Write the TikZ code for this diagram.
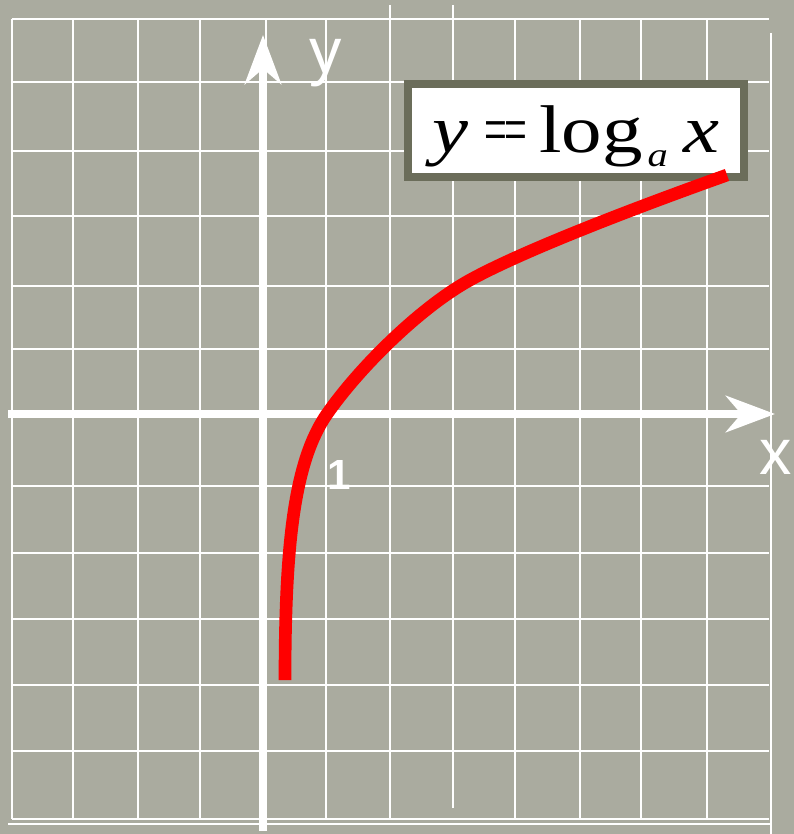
\documentclass[tikz,border=0pt]{standalone}
\usepackage{fontspec}
\setmainfont{Liberation Serif}
\setsansfont{Liberation Sans}
\usepackage{graphicx}
\usetikzlibrary{arrows.meta}

\definecolor{bgpaper}{RGB}{170,171,159}
\definecolor{framegray}{RGB}{107,109,90}
\definecolor{curvered}{RGB}{255,0,0}

\begin{document}
\begin{tikzpicture}[
  x=0.025cm, y=-0.025cm,
  gridline/.style={white, line width=1.3pt},
  axis/.style={white, line width=5.2pt,
               -{Stealth[length=35pt, width=26pt, inset=11pt]}},
  axlabel/.style={text=white, font=\sffamily\fontsize{46}{46}\selectfont, inner sep=0pt},
  onelabel/.style={text=white, font=\sffamily\bfseries\fontsize{30}{30}\selectfont, inner sep=0pt},
  eqbox/.style={draw=framegray, line width=5.7pt, fill=white, inner sep=0pt,
                minimum width=8.4cm, minimum height=2.325cm,
                text height=36pt, text depth=5.4pt},
  logcurve/.style={curvered, line width=9pt}
]
% --- paper and grid --------------------------------------------------------
\useasboundingbox (0,0) rectangle (794,834);
\fill[bgpaper] (0,0) rectangle (794,834);

\foreach \gx in {12,73,138,200,266,326,515,580,641,707}
  \draw[gridline] (\gx,19) -- (\gx,819);
\draw[gridline] (390,5) -- (390,819);
\draw[gridline] (453,5) -- (453,808);
\draw[gridline] (771,33) -- (771,834);
\foreach \gy in {19,82,151,216,286,349,486,553,619,685,751,819}
  \draw[gridline] (12,\gy) -- (769,\gy);
\draw[gridline] (8,824) -- (771,824);

% --- axes ------------------------------------------------------------------
\coordinate (xstart) at (8,414);
\coordinate (xend) at (775,414);
\coordinate (ystart) at (263,831);
\coordinate (yend) at (263,35);
\draw[axis] (xstart) -- (xend);
\draw[axis] (ystart) -- (yend);

\node[axlabel] (ylab) at (326,63.5) {y};
\node[axlabel] (xlab) at (776,457.5) {x};
\node[onelabel] (one) at (339,474.5) {1};

% --- formula ---------------------------------------------------------------
\node[eqbox] (eq) at (576,130.5) {\scalebox{1.2}[1]{\fontsize{48}{50}\selectfont
  \textit{y}\hspace{9pt}\scalebox{.5}[1]{=}\kern-1.5pt\scalebox{.5}[1]{=}\hspace{7pt}log\hspace{3pt}%
  \raisebox{-10.5pt}{\fontsize{24}{24}\selectfont\textit{a}}\hspace{9pt}\textit{x}}};

% --- graph -----------------------------------------------------------------
\draw[logcurve] (285,680) .. controls (285,540) and (295,460) .. (327,414)
                          .. controls (359,368) and (420,307.5) .. (470,280)
                          .. controls (530,247) and (657,200) .. (727,175);
\end{tikzpicture}
\end{document}
